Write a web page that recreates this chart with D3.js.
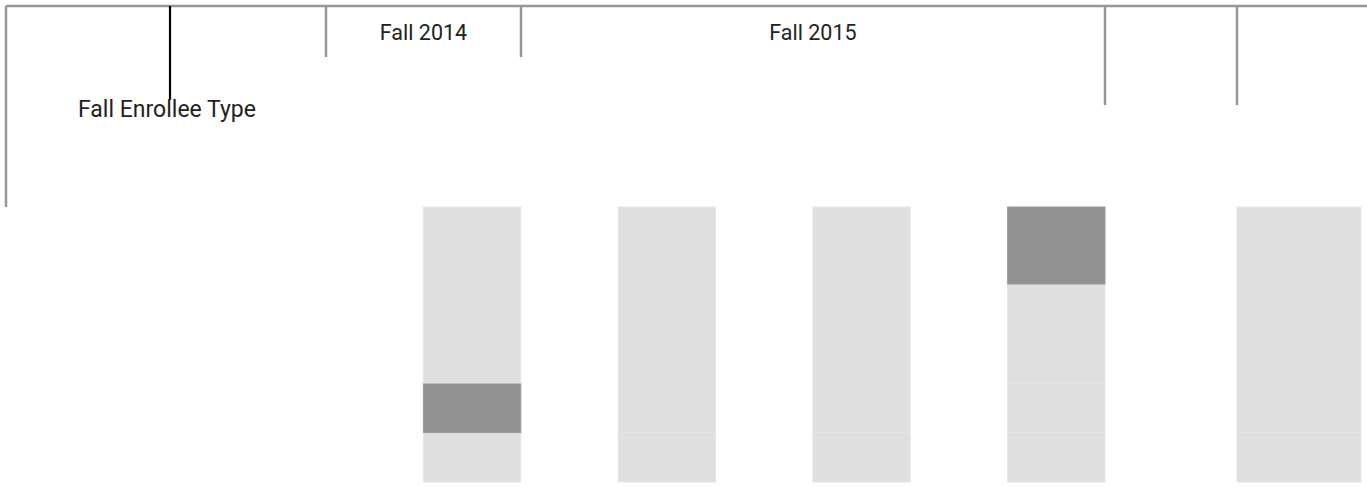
<!DOCTYPE html>
<html>
<head>
<meta charset="utf-8">
<script src="https://cdn.jsdelivr.net/npm/d3@7"></script>
<style>
  body { margin: 0; background: #fff; }
  svg { display: block; }
</style>
</head>
<body>
<div id="chart"></div>
<script>
// Data
const categories = ["Fall 2014", "Fall 2015 A", "Fall 2015 B", "Fall 2015 C", "Other"];
// stacked segment shares (bottom -> top), percent
const segments = [
  [18, 18, 64],
  [18, 82],
  [18, 82],
  [18, 18, 36, 28],
  [18, 82]
];
// which segment is highlighted in each bar (-1 = none)
const highlight = [1, -1, -1, 3, -1];
const headerLabels = ["Fall 2014", "Fall 2015"];
const rowHeader = "Fall Enrollee Type";

const width = 1367, height = 487;

const svg = d3.select("#chart")
  .append("svg")
  .attr("width", width)
  .attr("height", height);

const font = "Roboto, 'Liberation Sans', Arial, sans-serif";

// Scales
const y = d3.scaleLinear().domain([0, 100]).range([482, 207]);

// first four bars sit in equal columns, bar in the right half
const x = d3.scaleBand()
  .domain(categories.slice(0, 4))
  .range([326, 1105]);

// last bar sits in its own wider column
const xLast = d3.scaleBand()
  .domain(categories.slice(4))
  .range([1237, 1361]);

function barX(c) {
  if (x.domain().includes(c)) return x(c) + x.bandwidth() / 2;
  return xLast(c);
}
function barW(c) {
  if (x.domain().includes(c)) return x.bandwidth() / 2;
  return xLast.bandwidth();
}

// Header frame
const frame = svg.append("g")
  .attr("stroke", "#969696")
  .attr("stroke-width", 2.5);

frame.append("line").attr("x1", 6).attr("y1", 6).attr("x2", width).attr("y2", 6);
frame.append("line").attr("x1", 6).attr("y1", 6).attr("x2", 6).attr("y2", 207);

// column dividers under the year headers
[326, 521].forEach(px => {
  frame.append("line").attr("x1", px).attr("y1", 6).attr("x2", px).attr("y2", 57);
});
[1105, 1237].forEach(px => {
  frame.append("line").attr("x1", px).attr("y1", 6).attr("x2", px).attr("y2", 105);
});

// black divider in the row header
svg.append("line")
  .attr("x1", 170).attr("y1", 6)
  .attr("x2", 170).attr("y2", 100)
  .attr("stroke", "#000")
  .attr("stroke-width", 2.2);

// year headers
const headerCenters = [
  (326 + 521) / 2,
  (x("Fall 2015 A") + x("Fall 2015 C") + x.step()) / 2
];
headerLabels.forEach((label, i) => {
  svg.append("text")
    .attr("x", headerCenters[i])
    .attr("y", 40)
    .attr("text-anchor", "middle")
    .style("font-family", font)
    .style("font-size", "21.5px")
    .style("fill", "#222")
    .text(label);
});

svg.append("text")
  .attr("x", 78)
  .attr("y", 117)
  .style("font-family", font)
  .style("font-size", "23px")
  .style("fill", "#222")
  .text(rowHeader);

// Stacked bars
categories.forEach((c, i) => {
  let base = 0;
  segments[i].forEach((v, j) => {
    svg.append("rect")
      .attr("x", barX(c))
      .attr("y", y(base + v))
      .attr("width", barW(c))
      .attr("height", y(base) - y(base + v))
      .attr("fill", j === highlight[i] ? "#919191" : "#dfdfdf")
      .attr("stroke", j === highlight[i] ? "#9a9a9a" : "#e6e6e6")
      .attr("stroke-width", 1);
    base += v;
  });
});
</script>
</body>
</html>
